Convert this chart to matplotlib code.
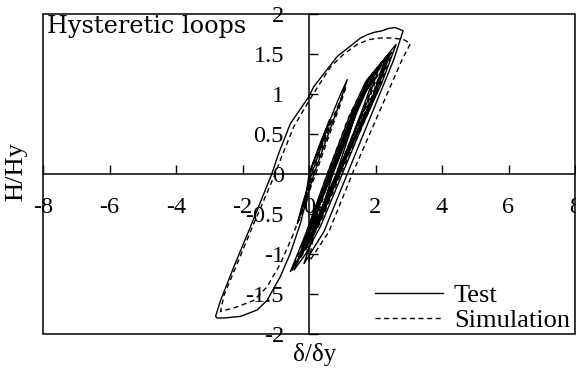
import matplotlib
matplotlib.use("Agg")
import matplotlib.pyplot as plt
from matplotlib.patches import Rectangle
from matplotlib import font_manager

# Test record: displacement ratio and force ratio, in load order
test_d = [0.0, 0.35, 0.62, 0.4, 0.08, -0.2, -0.35, -0.1, 0.0, 0.55, 0.9, 1.15,
          0.95, 0.6, 0.15, -0.05, -0.26, -0.56, -0.86, -1.26, -1.56, -2.06, -2.56, -2.76, -2.81,
          -2.66, -2.26, -1.76, -1.12, -0.91, -0.56, 0.0, 0.14, 0.85, 1.55, 1.75, 1.95, 2.2, 2.4, 2.6, 2.83,
          2.55, 1.15, 0.45, -0.15,
          0.25, 0.72, 1.45, 2.0, 2.62,
          2.2, 1.6, 1.0, 0.35, -0.1, -0.45,
          0.0, 0.6, 1.3, 1.9, 2.45,
          2.0, 1.45, 0.9, 0.3, -0.15, -0.56,
          -0.1, 0.55, 1.2, 1.7, 2.3,
          1.9, 1.4, 0.88, 0.2, -0.35,
          0.05, 0.62, 1.25, 1.8, 2.4,
          1.95, 1.45, 0.92, 0.3, -0.25,
          0.15, 0.65, 1.2, 1.65, 2.1,
          1.75, 1.35, 0.85, 0.3, -0.05,
          0.25, 0.68, 1.15, 1.55, 1.95,
          1.6, 1.25, 0.84, 0.35, 0.1,
          0.35, 0.7, 1.1, 1.4,
          1.2, 0.82, 0.5]
test_h = [0.0, 0.4, 0.68, 0.38, 0.0, -0.38, -0.62, -0.3, 0.0, 0.59, 0.95, 1.18,
          0.92, 0.52, 0.0, -0.28, -0.62, -0.99, -1.28, -1.58, -1.70, -1.78, -1.80, -1.80, -1.78,
          -1.58, -1.16, -0.66, 0.0, 0.26, 0.63, 0.97, 1.09, 1.47, 1.70, 1.74, 1.77, 1.79, 1.82, 1.83, 1.79,
          1.43, 0.0, -0.72, -1.12,
          -0.62, 0.0, 0.78, 1.3, 1.62,
          1.15, 0.6, 0.0, -0.65, -1.0, -1.2,
          -0.72, 0.0, 0.75, 1.25, 1.51,
          1.0, 0.5, 0.0, -0.6, -0.95, -1.22,
          -0.75, 0.0, 0.7, 1.15, 1.45,
          0.95, 0.48, 0.0, -0.7, -1.1,
          -0.6, 0.0, 0.68, 1.2, 1.5,
          1.0, 0.52, 0.0, -0.62, -1.02,
          -0.55, 0.0, 0.6, 1.02, 1.32,
          0.9, 0.5, 0.0, -0.55, -0.85,
          -0.45, 0.0, 0.5, 0.92, 1.2,
          0.8, 0.42, 0.0, -0.45, -0.7,
          -0.35, 0.0, 0.42, 0.75,
          0.48, 0.0, -0.3]

# Simulation result, same load history
sim_d = [0.0, 0.4, 0.68, 0.45, 0.12, -0.15, -0.3, -0.05, 0.05, 0.6, 0.92, 1.12,
         0.95, 0.62, 0.2, -0.08, -0.5, -0.86, -1.26, -1.66, -2.16, -2.5, -2.66,
         -2.56, -2.16, -1.66, -1.02, -0.82, -0.46, 0.05, 0.65, 1.05, 1.45, 1.8, 2.15, 2.5, 2.85, 3.05,
         2.8, 1.3, 0.6, 0.0,
         0.2, 0.65, 1.35, 1.95, 2.5,
         2.05, 1.5, 0.95, 0.35, -0.1, -0.5,
         -0.05, 0.55, 1.2, 1.75, 2.3,
         1.9, 1.4, 0.88, 0.25, -0.3,
         0.1, 0.6, 1.2, 1.7, 2.2,
         1.8, 1.35, 0.86, 0.3, -0.1,
         0.25, 0.66, 1.15, 1.6, 2.0,
         1.65, 1.25, 0.83, 0.4]
sim_h = [0.0, 0.42, 0.68, 0.38, 0.0, -0.36, -0.58, -0.28, 0.0, 0.58, 0.9, 1.1,
         0.88, 0.5, 0.0, -0.32, -0.78, -1.12, -1.41, -1.58, -1.66, -1.70, -1.72,
         -1.52, -1.12, -0.62, 0.0, 0.22, 0.59, 0.95, 1.34, 1.5, 1.62, 1.68, 1.70, 1.70, 1.68, 1.63,
         1.43, 0.0, -0.72, -1.1,
         -0.6, 0.0, 0.75, 1.25, 1.52,
         1.02, 0.5, 0.0, -0.6, -0.95, -1.2,
         -0.7, 0.0, 0.72, 1.18, 1.45,
         0.98, 0.5, 0.0, -0.65, -1.05,
         -0.6, 0.0, 0.65, 1.1, 1.4,
         0.92, 0.48, 0.0, -0.55, -0.88,
         -0.45, 0.0, 0.52, 0.95, 1.22,
         0.82, 0.42, 0.0, -0.42]

x_ticks = [-8, -6, -4, -2, 0, 2, 4, 6, 8]
x_tick_labels = ["-8", "-6", "-4", "-2", "0", "2", "4", "6", "8"]
y_ticks = [2, 1.5, 1, 0.5, 0, -0.5, -1, -1.5, -2]
y_tick_labels = ["2", "1.5", "1", "0.5", "0", "-0.5", "-1", "-1.5", "-2"]

# Times-like serif face for all labels
serif_path = font_manager.findfont(font_manager.FontProperties(family="Liberation Serif"),
                                   fallback_to_default=False)
serif_fp = font_manager.FontProperties(fname=serif_path)
serif_name = serif_fp.get_name()
plt.rcParams["font.family"] = "serif"
plt.rcParams["font.serif"] = [serif_name, "DejaVu Serif"]

W, H = 576, 371
fig = plt.figure(figsize=(W / 100, H / 100), dpi=100)
ax = fig.add_axes([43 / W, 1 - 334 / H, (575 - 43) / W, (334 - 14) / H])
ax.set_xlim(-8, 8)
ax.set_ylim(-2, 2)

lw = 1.0
ax.plot(test_d, test_h, color="black", lw=lw, solid_joinstyle="round", label="Test")
ax.plot(sim_d, sim_h, color="black", lw=lw, ls=(0, (3.6, 2.6)), label="Simulation")

# Axes cross at the origin, with a full frame around the plot
for side in ("top", "right"):
    ax.spines[side].set_visible(False)
ax.spines["left"].set_position(("data", 0))
ax.spines["bottom"].set_position(("data", 0))
for side in ("left", "bottom"):
    ax.spines[side].set_linewidth(1.1)
ax.add_patch(Rectangle((0, 0), 1, 1, transform=ax.transAxes, fill=False,
                       lw=1.1, ec="black", clip_on=False, zorder=3))

ax.set_xticks(x_ticks)
ax.set_xticklabels(x_tick_labels, fontproperties=serif_fp, fontsize=17.5)
ax.set_yticks(y_ticks)
ax.set_yticklabels(y_tick_labels, fontproperties=serif_fp, fontsize=17.5)
ax.xaxis.set_ticks_position("bottom")
ax.yaxis.set_ticks_position("left")
ax.tick_params(axis="x", direction="in", length=6.5, width=1.0, pad=16.5)
ax.tick_params(axis="y", direction="in", length=6.5, width=1.0, pad=18)

fig.text(16 / W, 1 - 172 / H, "H/Hy", rotation=90, ha="center", va="center",
         fontproperties=serif_fp, fontsize=19)
fig.text(315 / W, 1 - 355 / H, "δ/δy", ha="center", va="center",
         fontproperties=serif_fp, fontsize=18)
fig.text(47 / W, 1 - 33 / H, "Hysteretic loops", ha="left", va="baseline",
         fontsize=17.2, family="DejaVu Serif")

leg_fp = serif_fp.copy()
leg_fp.set_size(19)
leg = ax.legend(loc="lower right", bbox_to_anchor=(570 / W, 1 - 332 / H),
                bbox_transform=fig.transFigure, frameon=False, prop=leg_fp,
                handlelength=2.6, handletextpad=0.4, labelspacing=0.05,
                borderpad=0, borderaxespad=0)

fig.savefig("out.png", dpi=100)
